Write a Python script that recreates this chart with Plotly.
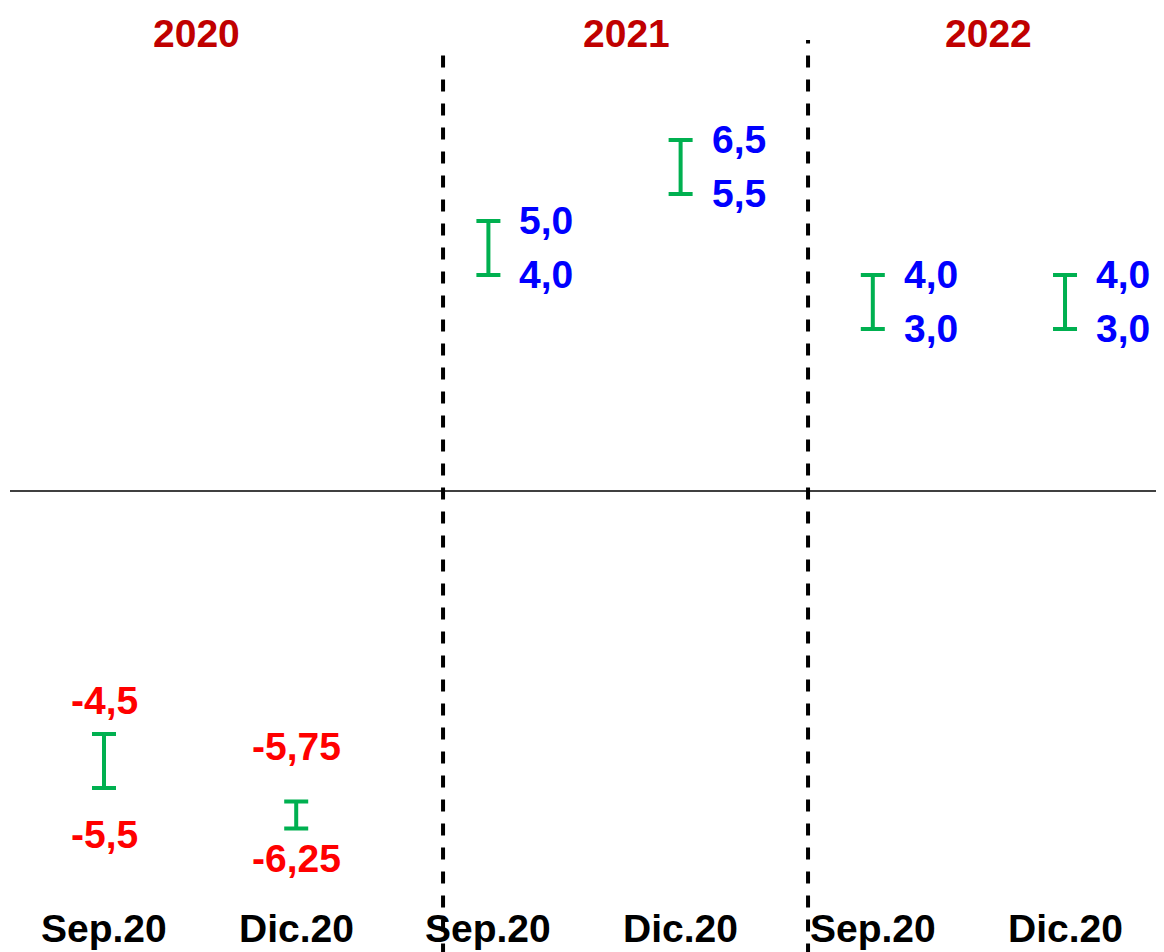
import plotly.graph_objects as go

cats = ["Sep.20", "Dic.20", "Sep.20", "Dic.20", "Sep.20", "Dic.20"]
years = ["2020", "2021", "2022"]
low = [-5.5, -6.25, 4.0, 5.5, 3.0, 3.0]
high = [-4.5, -5.75, 5.0, 6.5, 4.0, 4.0]
low_lbl = ["-5,5", "-6,25", "4,0", "5,5", "3,0", "3,0"]
high_lbl = ["-4,5", "-5,75", "5,0", "6,5", "4,0", "4,0"]

xs = list(range(len(cats)))
mid = [(a + b) / 2 for a, b in zip(low, high)]
half = [(b - a) / 2 for a, b in zip(low, high)]
FONT = "Liberation Sans Narrow, Arial Narrow, sans-serif"

fig = go.Figure(go.Scatter(
    x=xs, y=mid, mode="markers", marker=dict(size=1, color="rgba(0,0,0,0)"),
    error_y=dict(type="data", array=half, color="#00B050", thickness=4, width=12),
    showlegend=False, hoverinfo="skip"))

up_shift = [34, 55]
dn_shift = [-46, -30]
ann = []
for i in xs:
    if high[i] > 0:
        ann.append(dict(x=i, y=high[i], text=f"<b>{high_lbl[i]}</b>", xshift=58, font=dict(color="#0000FF", size=39, family=FONT), showarrow=False))
        ann.append(dict(x=i, y=low[i], text=f"<b>{low_lbl[i]}</b>", xshift=58, font=dict(color="#0000FF", size=39, family=FONT), showarrow=False))
    else:
        ann.append(dict(x=i, y=high[i], text=f"<b>{high_lbl[i]}</b>", yshift=up_shift[i], font=dict(color="#FF0000", size=39, family=FONT), showarrow=False))
        ann.append(dict(x=i, y=low[i], text=f"<b>{low_lbl[i]}</b>", yshift=dn_shift[i], font=dict(color="#FF0000", size=39, family=FONT), showarrow=False))
    ann.append(dict(x=i, y=0, yref="paper", yanchor="middle", yshift=24, text=f"<b>{cats[i]}</b>", font=dict(color="black", size=39, family=FONT), showarrow=False))
for j, yr in enumerate(years):
    ann.append(dict(x=[0.48, 2.72, 4.6][j], y=1, yref="paper", yanchor="middle", yshift=-25, text=f"<b>{yr}</b>", font=dict(color="#C00000", size=39, family=FONT), showarrow=False))

shapes = [
    dict(type="line", xref="paper", x0=2/1156, x1=1152/1156, y0=0, y1=0, line=dict(color="black", width=1.3)),
    dict(type="line", x0=1.764, x1=1.764, y0=-8.6, y1=8.26, line=dict(color="black", width=4, dash="dash")),
    dict(type="line", x0=3.663, x1=3.663, y0=-8.6, y1=8.35, line=dict(color="black", width=4, dash="dash")),
]

fig.update_layout(
    width=1156, height=944, margin=dict(l=0, r=0, t=0, b=0),
    plot_bgcolor="white", paper_bgcolor="white",
    xaxis=dict(range=[-0.4995, 5.515], visible=False),
    yaxis=dict(range=[-8.537, 8.944], visible=False),
    annotations=ann, shapes=shapes)
fig.write_html("out.html")
